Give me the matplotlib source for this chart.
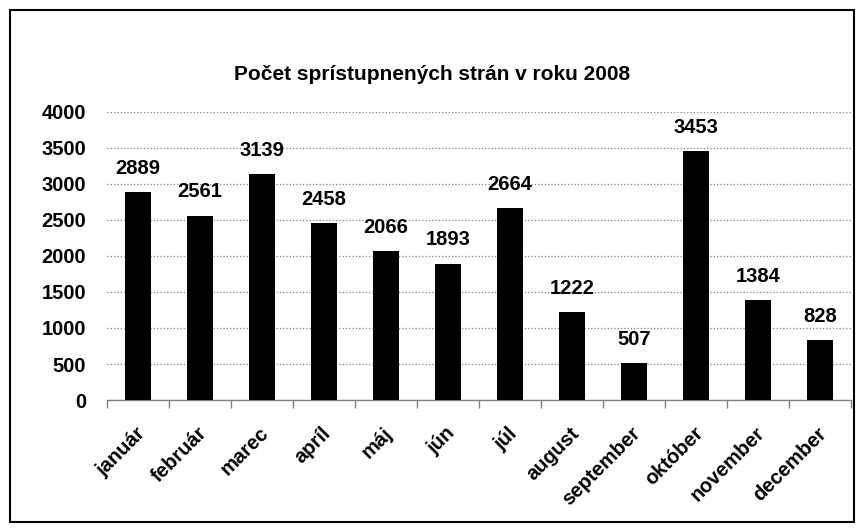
import numpy as np
import matplotlib.pyplot as plt
from matplotlib.patches import Rectangle
from matplotlib.transforms import ScaledTranslation

months = ['január', 'február', 'marec', 'apríl', 'máj', 'jún', 'júl',
          'august', 'september', 'október', 'november', 'december']
pages = [2889, 2561, 3139, 2458, 2066, 1893, 2664, 1222, 507, 3453, 1384, 828]
y_ticks = [0, 500, 1000, 1500, 2000, 2500, 3000, 3500, 4000]

plt.rcParams['font.family'] = ['Liberation Sans', 'DejaVu Sans']
plt.rcParams['font.weight'] = 'bold'
fs = 14.5

fig = plt.figure(figsize=(8.64, 5.32), dpi=100)
ax = fig.add_axes([107/864, 1 - 400/532, (851 - 107)/864, (400 - 112)/532])

x = np.arange(len(months))
ax.bar(x, pages, width=0.435, color='black', zorder=3)
for xi, v in zip(x, pages):
    ax.text(xi, v + 200, str(v), ha='center', va='bottom',
            fontsize=fs, fontweight='bold')

ax.set_xlim(-0.5, len(months) - 0.5)
ax.set_ylim(0, 4000)
ax.set_yticks(y_ticks)
ax.set_yticklabels([str(t) for t in y_ticks], fontsize=fs, fontweight='bold')
ax.yaxis.grid(True, linestyle=':', color='#808080', linewidth=0.9, zorder=0)
ax.tick_params(axis='y', length=0, pad=15)

# ticks between categories on the x axis
ax.set_xticks(np.arange(-0.5, len(months), 1.0))
ax.set_xticklabels([])
ax.set_xticks(x, minor=True)
ax.set_xticklabels(months, minor=True, rotation=45, ha='right',
                   rotation_mode='anchor', fontsize=fs, fontweight='bold')
ax.tick_params(axis='x', which='major', length=6, color='#808080', width=1)
ax.tick_params(axis='x', which='minor', length=0, pad=17)
shift = ScaledTranslation(-2/72, 0, fig.dpi_scale_trans)
for lbl in ax.get_xticklabels(minor=True):
    lbl.set_transform(lbl.get_transform() + shift)

for s in ['top', 'right', 'left']:
    ax.spines[s].set_visible(False)
ax.spines['bottom'].set_color('#808080')
ax.spines['bottom'].set_linewidth(1)

fig.text(0.5, 1 - 75/532, 'Počet sprístupnených strán v roku 2008',
         ha='center', va='center', fontsize=15, fontweight='bold')

fig.patches.append(Rectangle((10/864, 10/532), 844/864, 512/532,
                             transform=fig.transFigure, fill=False,
                             edgecolor='black', linewidth=1.5))

plt.savefig('out.png', dpi=100)
